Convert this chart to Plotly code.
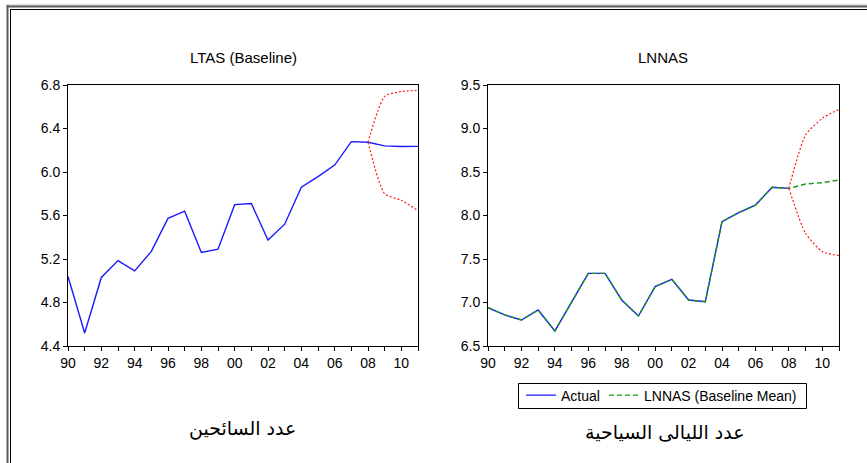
import plotly.graph_objects as go

W, H = 867, 463

# ---- data -------------------------------------------------------------
years = list(range(1990, 2012))
fc_years = [2008, 2009, 2010, 2011]
tick_years = list(range(1990, 2012, 2))
tick_text = ["90", "92", "94", "96", "98", "00", "02", "04", "06", "08", "10"]

# tourist arrivals (log), baseline including 2009-2011 projection
ltas_baseline = [5.04, 4.52, 5.03, 5.185, 5.09, 5.27, 5.574, 5.64, 5.26, 5.29,
                 5.70, 5.71, 5.375, 5.52, 5.86, 5.957, 6.064, 6.279, 6.273,
                 6.24, 6.235, 6.236]
ltas_upper = [6.273, 6.695, 6.74, 6.75]
ltas_lower = [6.273, 5.80, 5.74, 5.645]

# tourist nights (log)
lnnas_actual = [6.94, 6.857, 6.799, 6.914, 6.673, 7.01, 7.335, 7.335, 7.029,
                6.845, 7.182, 7.267, 7.029, 7.01, 7.929, 8.033, 8.12, 8.324,
                8.312]
lnnas_mean = lnnas_actual + [8.362, 8.377, 8.408]
lnnas_upper = [8.312, 8.925, 9.117, 9.22]
lnnas_lower = [8.312, 7.795, 7.585, 7.54]

BLUE = "#1a1aff"
RED = "#ff1a1a"
GREEN = "#1a961a"


def px(x):
    return x / W


def py(y):
    return 1 - y / H


fig = go.Figure()

# left panel
fig.add_trace(go.Scatter(x=years, y=ltas_baseline, mode="lines",
                         line=dict(color=BLUE, width=1.4),
                         xaxis="x", yaxis="y", showlegend=False))
for band in (ltas_upper, ltas_lower):
    fig.add_trace(go.Scatter(x=fc_years, y=band, mode="lines",
                             line=dict(color=RED, width=1.2, dash="2px,2px",
                                       shape="spline", smoothing=0.6),
                             xaxis="x", yaxis="y", showlegend=False))

# right panel
fig.add_trace(go.Scatter(x=years[:len(lnnas_actual)], y=lnnas_actual,
                         mode="lines", name="Actual",
                         line=dict(color=BLUE, width=1.4),
                         xaxis="x2", yaxis="y2", legend="legend"))
fig.add_trace(go.Scatter(x=years, y=lnnas_mean, mode="lines",
                         name="LNNAS (Baseline Mean)",
                         line=dict(color=GREEN, width=1.4, dash="5px,3px"),
                         xaxis="x2", yaxis="y2", legend="legend2"))
for band in (lnnas_upper, lnnas_lower):
    fig.add_trace(go.Scatter(x=fc_years, y=band, mode="lines",
                             line=dict(color=RED, width=1.2, dash="2px,2px",
                                       shape="spline", smoothing=0.6),
                             xaxis="x2", yaxis="y2", showlegend=False))

axis_font = dict(family="Liberation Sans, Arial, sans-serif", size=14,
                 color="#000000")
xcommon = dict(range=[1990, 2011], tickvals=tick_years, ticktext=tick_text,
               minor=dict(dtick=1, ticks="outside", ticklen=4,
                          tickcolor="black", showgrid=False),
               ticks="outside", ticklen=4, tickcolor="black",
               showline=True, linecolor="black", linewidth=1, mirror=True,
               showgrid=False, zeroline=False, tickfont=axis_font)
ycommon = dict(ticks="outside", ticklen=4, tickcolor="black",
               showline=True, linecolor="black", linewidth=1, mirror=True,
               showgrid=False, zeroline=False, tickfont=axis_font)

legend_common = dict(orientation="h", y=py(395.5), xanchor="left",
                     yanchor="middle", borderwidth=0,
                     bgcolor="rgba(0,0,0,0)", font=axis_font, itemwidth=30)

fig.update_layout(
    width=W, height=H,
    margin=dict(l=0, r=0, t=0, b=0, autoexpand=False),
    paper_bgcolor="white", plot_bgcolor="white",
    xaxis=dict(domain=[px(68), px(418)], anchor="y", **xcommon),
    yaxis=dict(domain=[py(346), py(85)], anchor="x", range=[4.4, 6.8],
               tickvals=[4.4, 4.8, 5.2, 5.6, 6.0, 6.4, 6.8],
               ticktext=["4.4", "4.8", "5.2", "5.6", "6.0", "6.4", "6.8"],
               **ycommon),
    xaxis2=dict(domain=[px(488), px(839)], anchor="y2", **xcommon),
    yaxis2=dict(domain=[py(346), py(85)], anchor="x2", range=[6.5, 9.5],
                tickvals=[6.5, 7.0, 7.5, 8.0, 8.5, 9.0, 9.5],
                ticktext=["6.5", "7.0", "7.5", "8.0", "8.5", "9.0", "9.5"],
                **ycommon),
    legend=dict(x=px(521), **legend_common),
    legend2=dict(x=px(604), **legend_common),
    showlegend=True,
)

# legend frame
fig.add_shape(type="rect", xref="paper", yref="paper",
              x0=px(518.5), x1=px(806.5), y0=py(383.5), y1=py(408.5),
              line=dict(color="black", width=1), fillcolor="rgba(0,0,0,0)")

title_font = dict(family="Liberation Sans, Arial, sans-serif", size=15,
                  color="#000000")
arabic_font = dict(family="DejaVu Sans, sans-serif", size=19,
                   color="#000000")
labels = [
    ("LTAS (Baseline)", 243, 58, title_font),
    ("LNNAS", 663, 58, title_font),
    ("عدد السائحين", 242, 428, arabic_font),
    ("عدد الليالى السياحية", 665, 432, arabic_font),
]
for text, lx, ly, fnt in labels:
    fig.add_annotation(text=text, x=px(lx), y=py(ly),
                       xref="paper", yref="paper", showarrow=False,
                       xanchor="center", yanchor="middle", font=fnt)

# window frame (double border on top and left)
frame = [
    dict(x0=7, y0=5, x1=W, y1=5, color="#bdbdbd", w=1),
    dict(x0=7, y0=6.5, x1=W, y1=6.5, color="#5a5a5a", w=2),
    dict(x0=7.5, y0=5, x1=7.5, y1=H, color="#5a5a5a", w=2),
    dict(x0=10, y0=9.5, x1=W, y1=9.5, color="#000000", w=1),
    dict(x0=10.5, y0=9.5, x1=10.5, y1=H, color="#000000", w=1),
]
for f in frame:
    fig.add_shape(type="line", xref="paper", yref="paper",
                  x0=px(f["x0"]), x1=px(f["x1"]),
                  y0=py(f["y0"]), y1=py(f["y1"]),
                  line=dict(color=f["color"], width=f["w"]))

fig.write_html("out.html")
